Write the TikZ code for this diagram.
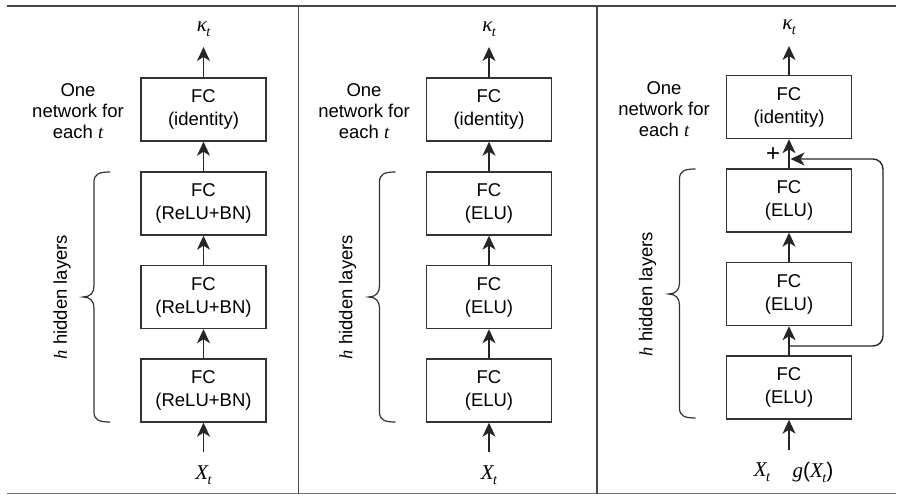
\documentclass[tikz,border=0pt]{standalone}
\usepackage{fontspec}
\setmainfont{Liberation Sans}
\newfontfamily\tmsfont{Liberation Serif}
\usetikzlibrary{arrows.meta}
\newcommand\mv[1]{{\tmsfont\itshape #1}}
\newcommand\msub[2]{\mv{#1}\kern-0.5pt\raisebox{-0.45ex}{\fontsize{14}{14}\selectfont\mv{#2}}}
\begin{document}
\begin{tikzpicture}[x=1pt,y=-1pt,
  fcbox/.style={draw=black!80, line width=1.4pt, minimum width=125pt, minimum height=63pt, inner sep=0pt, align=center, font=\fontsize{18.5}{23}\selectfont},
  arr/.style={-{Stealth[length=14pt,width=13pt,inset=4pt]}, line width=1.4pt, draw=black!85},
  lbl/.style={align=center, font=\fontsize{18.5}{21}\selectfont},
  mlbl/.style={inner sep=0pt, font=\fontsize{21}{21}\selectfont},
  bracestyle/.style={line width=1.2pt, draw=black!80},
  frame/.style={line width=1.5pt, draw=black!72}]
\useasboundingbox (0,0) rectangle (904,495);
% frame lines
\draw[frame] (7,6) -- (896,6);
\draw[frame, draw=black!55, line width=1.3pt] (7,493.5) -- (896,493.5);
\draw[frame] (298.5,6) -- (298.5,493.5);
\draw[frame] (597,6) -- (597,493.5);

% ---------- Panel 1 ----------
\node[fcbox] (id1) at (203.5,109.5) {FC\\(identity)};
\node[fcbox] (a1) at (203.5,203.5) {FC\\(ReLU+BN)};
\node[fcbox] (b1) at (203.5,297) {FC\\(ReLU+BN)};
\node[fcbox] (c1) at (203.5,390.5) {FC\\(ReLU+BN)};
\node[mlbl] (k1) at (203.5,29) {\msub{κ}{t}};
\coordinate (k1tip) at (203.5,47);
\node[mlbl] (x1) at (203.5,475) {\msub{X}{t}};
\coordinate (x1tail) at (203.5,452);
\draw[arr] (id1.north) -- (k1tip);
\draw[arr] (a1.north) -- (id1.south);
\draw[arr] (b1.north) -- (a1.south);
\draw[arr] (c1.north) -- (b1.south);
\draw[arr] (x1tail) -- (c1.south);
\node[lbl] (o1) at (78,111) {One\\network for\\each \mv{t}};
\node[lbl, rotate=90] (h1) at (62,297) {\mv{h} hidden layers};
\draw[bracestyle] (110,172) .. controls (99,172) and (94,174) .. (94,182) -- (94,286)
  .. controls (94,293) and (90,297) .. (83,297) .. controls (90,297) and (94,301) .. (94,308)
  -- (94,412) .. controls (94,420) and (99,422) .. (110,422);

% ---------- Panel 2 ----------
\node[fcbox] (id2) at (489,109.5) {FC\\(identity)};
\node[fcbox] (a2) at (489,203.5) {FC\\(ELU)};
\node[fcbox] (b2) at (489,297) {FC\\(ELU)};
\node[fcbox] (c2) at (489,390.5) {FC\\(ELU)};
\node[mlbl] (k2) at (489,29) {\msub{κ}{t}};
\coordinate (k2tip) at (489,47);
\node[mlbl] (x2) at (489,475) {\msub{X}{t}};
\coordinate (x2tail) at (489,452);
\draw[arr] (id2.north) -- (k2tip);
\draw[arr] (a2.north) -- (id2.south);
\draw[arr] (b2.north) -- (a2.south);
\draw[arr] (c2.north) -- (b2.south);
\draw[arr] (x2tail) -- (c2.south);
\node[lbl] (o2) at (364,111) {One\\network for\\each \mv{t}};
\node[lbl, rotate=90] (h2) at (347.5,297) {\mv{h} hidden layers};
\draw[bracestyle] (395.5,172) .. controls (384.5,172) and (379.5,174) .. (379.5,182) -- (379.5,286)
  .. controls (379.5,293) and (375.5,297) .. (368.5,297) .. controls (375.5,297) and (379.5,301) .. (379.5,308)
  -- (379.5,412) .. controls (379.5,420) and (384.5,422) .. (395.5,422);

% ---------- Panel 3 ----------
\node[fcbox] (id3) at (789,107) {FC\\(identity)};
\node[fcbox] (a3) at (789,200.5) {FC\\(ELU)};
\node[fcbox] (b3) at (789,294) {FC\\(ELU)};
\node[fcbox] (c3) at (789,387.5) {FC\\(ELU)};
\node[mlbl] (k3) at (789,27) {\msub{κ}{t}};
\coordinate (k3tip) at (789,46);
\node[mlbl] (x3) at (762,472) {\msub{X}{t}};
\node[mlbl] (g3) at (813,472) {\mv{g}(\msub{X}{t})};
\coordinate (x3tail) at (789,450);
\draw[arr] (id3.north) -- (k3tip);
\draw[arr] (a3.north) -- (id3.south);
\draw[arr] (b3.north) -- (a3.south);
\draw[arr] (c3.north) -- (b3.south);
\draw[arr] (x3tail) -- (c3.south);
\coordinate (r3a) at (789,346);
\coordinate (r3b) at (883,346);
\coordinate (r3c) at (883,159);
\coordinate (r3d) at (790.5,159);
\draw[arr, rounded corners=10pt] (r3a) -- (r3b) -- (r3c) -- (r3d);
\node[inner sep=0pt, font=\fontsize{24}{24}\selectfont] (plus3) at (773,155) {+};
\node[lbl] (o3) at (664,109) {One\\network for\\each \mv{t}};
\node[lbl, rotate=90] (h3) at (647.5,294) {\mv{h} hidden layers};
\draw[bracestyle] (695.5,169) .. controls (684.5,169) and (679.5,171) .. (679.5,179) -- (679.5,283)
  .. controls (679.5,290) and (675.5,294) .. (668.5,294) .. controls (675.5,294) and (679.5,298) .. (679.5,305)
  -- (679.5,408) .. controls (679.5,416) and (684.5,418) .. (695.5,418);
\end{tikzpicture}
\end{document}
